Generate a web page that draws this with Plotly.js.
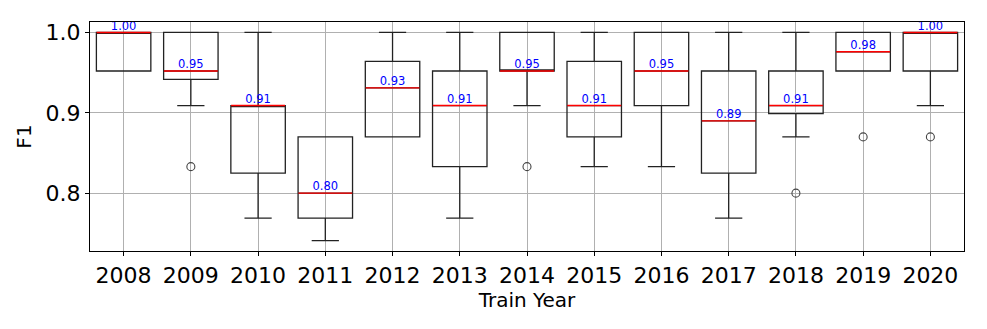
<!DOCTYPE html>
<html>
<head>
<meta charset="utf-8">
<script src="https://cdn.plot.ly/plotly-3.0.1.min.js"></script>
<style>
  html, body { margin: 0; padding: 0; background: #fff; }
  #chart { width: 987px; height: 329px; }
</style>
</head>
<body>
<div id="chart"></div>
<script>
// F1 by train year (box stats)
var years = ['2008','2009','2010','2011','2012','2013','2014','2015','2016','2017','2018','2019','2020'];
var q1Values     = [0.952, 0.9415, 0.825, 0.769, 0.870, 0.833, 0.952, 0.870, 0.909, 0.825, 0.899, 0.952, 0.952];
var medianValues = [1.000, 0.952, 0.909, 0.800, 0.931, 0.909, 0.952, 0.909, 0.952, 0.890, 0.909, 0.976, 1.000];
var q3Values     = [1.000, 1.000, 0.909, 0.870, 0.964, 0.952, 1.000, 0.964, 1.000, 0.952, 0.952, 1.000, 1.000];
var lowerValues  = [0.952, 0.909, 0.769, 0.741, 0.870, 0.769, 0.909, 0.833, 0.833, 0.769, 0.870, 0.952, 0.909];
var upperValues  = [1.000, 1.000, 1.000, 0.870, 1.000, 1.000, 1.000, 1.000, 1.000, 1.000, 1.000, 1.000, 1.000];
var outlierYears  = ['2009','2014','2018','2019','2020'];
var outlierValues = [0.833, 0.833, 0.800, 0.870, 0.870];

var medianLabels = medianValues.map(function (v) { return v.toFixed(2); });

var data = [
  {
    type: 'box', x: years,
    q1: q1Values, median: medianValues, q3: q3Values,
    lowerfence: lowerValues, upperfence: upperValues,
    boxpoints: false, width: 0.81, whiskerwidth: 0.5,
    fillcolor: 'rgba(0,0,0,0)',
    line: {color: '#222', width: 1.3},
    hoverinfo: 'skip', showlegend: false
  },
  // red median lines (line-ew spans 1.4 * size px)
  {
    type: 'scatter', mode: 'markers', x: years, y: medianValues,
    marker: {symbol: 'line-ew', size: 38.5, line: {color: '#ff0000', width: 1.4}},
    cliponaxis: false, hoverinfo: 'skip', showlegend: false
  },
  // outliers
  {
    type: 'scatter', mode: 'markers', x: outlierYears, y: outlierValues,
    marker: {symbol: 'circle-open', size: 8, color: '#444', line: {width: 1.1}},
    hoverinfo: 'skip', showlegend: false
  },
  // median labels
  {
    type: 'scatter', mode: 'text', x: years, y: medianValues,
    text: medianLabels, textposition: 'top center',
    textfont: {family: 'DejaVu Sans', size: 11.5, color: '#0000ff'},
    cliponaxis: false, hoverinfo: 'skip', showlegend: false
  }
];

var layout = {
  width: 987, height: 329,
  margin: {l: 90, r: 23, t: 22, b: 78},
  paper_bgcolor: '#fff', plot_bgcolor: '#fff',
  font: {family: 'DejaVu Sans', color: '#000'},
  xaxis: {
    type: 'category', range: [-0.5, 12.5],
    title: {text: 'Train Year', font: {size: 20}, standoff: 4},
    tickfont: {size: 22},
    showgrid: true, gridcolor: '#b0b0b0', gridwidth: 1,
    showline: true, mirror: true, linecolor: '#000', linewidth: 1.2,
    ticks: 'outside', ticklen: 4, tickcolor: '#000', zeroline: false
  },
  yaxis: {
    range: [0.728, 1.013],
    tickvals: [0.8, 0.9, 1.0], ticktext: ['0.8', '0.9', '1.0'],
    title: {text: 'F1', font: {size: 20}, standoff: 8},
    tickfont: {size: 22},
    showgrid: true, gridcolor: '#b0b0b0', gridwidth: 1,
    showline: true, mirror: true, linecolor: '#000', linewidth: 1.2,
    ticks: 'outside', ticklen: 4, tickcolor: '#000', zeroline: false
  }
};

Plotly.newPlot('chart', data, layout, {staticPlot: true, displayModeBar: false});
</script>
</body>
</html>
